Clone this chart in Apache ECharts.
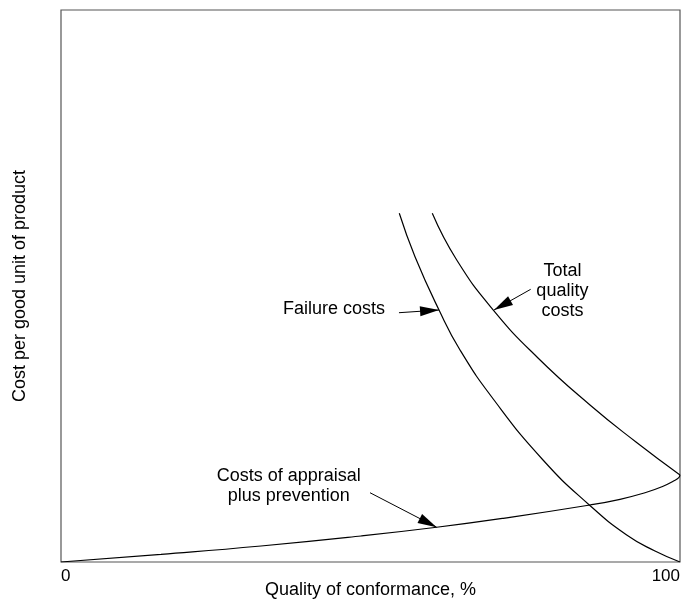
<!DOCTYPE html>
<html><head><meta charset="utf-8">
<script src="https://cdn.jsdelivr.net/npm/echarts@6/dist/echarts.min.js"></script>
<style>html,body{margin:0;padding:0;background:#fff}#c{width:683px;height:599px}</style>
</head><body><div id="c"></div>
<script>
// Data (x: quality of conformance %, y: relative cost per good unit)
const failureCosts = [[54.65,63.17],[57.19,55.31],[61.07,45.65],[64.46,38.41],[69.95,29.35],[77.87,18.48],[85.35,10.33],[91.39,4.89],[95.96,1.99],[100,0]];
const totalCosts = [[59.98,63.17],[63.93,54.71],[69.84,45.65],[77.06,36.96],[85.46,28.44],[92.89,21.74],[100,15.76]];
const appraisalCosts = [[0,0],[16.16,1.39],[32.31,2.90],[48.47,4.71],[60.69,6.29],[71.45,7.92],[85.46,10.33],[90.31,11.36],[94.35,12.54],[97.09,13.64],[99.03,14.73],[99.76,15.25],[100,15.76]];
const xTickLabels = ['0','100'];
// Annotation anchors (data coords)
const failureLabel = {text:'Failure costs', at:[44.1,45.9], from:[54.6,45.16], to:[61.07,45.65]};
const totalLabel = {text:'Total\nquality\ncosts', at:[81.0,49.0], from:[75.88,49.4], to:[69.95,45.65]};
const appraisalLabel = {text:'Costs of appraisal\nplus prevention', at:[36.8,13.8], from:[49.92,12.55], to:[60.69,6.29]};

const chart = echarts.init(document.getElementById('c'));
const font = 'Liberation Sans, Arial, sans-serif';
const lineStyle = {color:'#000', width:1.2};
function arrow(a){
  return {
    silent:true, symbol:['none','triangle'], symbolSize:[10,19], symbolOffset:[[0,0],[0,9.5]],
    lineStyle:{color:'#000', width:1, type:'solid'}, itemStyle:{color:'#000'},
    label:{show:false}, emphasis:{disabled:true},
    data:[[{coord:a.from},{coord:a.to}]]
  };
}
function label(a){
  return {
    symbol:'circle', symbolSize:1, silent:true,
    itemStyle:{color:'rgba(0,0,0,0)'},
    label:{show:true, position:'inside', formatter:a.text, color:'#000', fontSize:18, fontFamily:font, lineHeight:20, align:'center', verticalAlign:'middle'},
    data:[{coord:a.at}]
  };
}
chart.setOption({
  animation:false,
  grid:{left:61, right:3, top:10, bottom:37, containLabel:false, outerBoundsMode:'none', show:true, borderColor:'#555', borderWidth:1.2},
  xAxis:{type:'value', min:0, max:100, interval:100,
    name:'Quality of conformance, %', nameLocation:'middle', nameGap:19, nameMoveOverlap:false,
    nameTextStyle:{fontSize:18, fontFamily:font, color:'#000'},
    axisLine:{show:false}, axisTick:{show:false}, splitLine:{show:false},
    axisLabel:{margin:6, fontSize:17, fontFamily:font, color:'#000', alignMinLabel:'left', alignMaxLabel:'right',
      formatter:(v)=> v===0 ? xTickLabels[0] : (v===100 ? xTickLabels[1] : '')}},
  yAxis:{type:'value', min:0, max:100,
    name:'Cost per good unit of product', nameLocation:'middle', nameGap:32, nameMoveOverlap:false,
    nameTextStyle:{fontSize:18, fontFamily:font, color:'#000'},
    axisLine:{show:false}, axisTick:{show:false}, splitLine:{show:false}, axisLabel:{show:false}},
  series:[
    {type:'line', data:failureCosts, smooth:0.5, showSymbol:false, lineStyle, markLine:arrow(failureLabel), markPoint:label(failureLabel)},
    {type:'line', data:totalCosts, smooth:0.5, showSymbol:false, lineStyle, markLine:arrow(totalLabel), markPoint:label(totalLabel)},
    {type:'line', data:appraisalCosts, smooth:0.5, showSymbol:false, lineStyle, markLine:arrow(appraisalLabel), markPoint:label(appraisalLabel)}
  ]
});
</script></body></html>
